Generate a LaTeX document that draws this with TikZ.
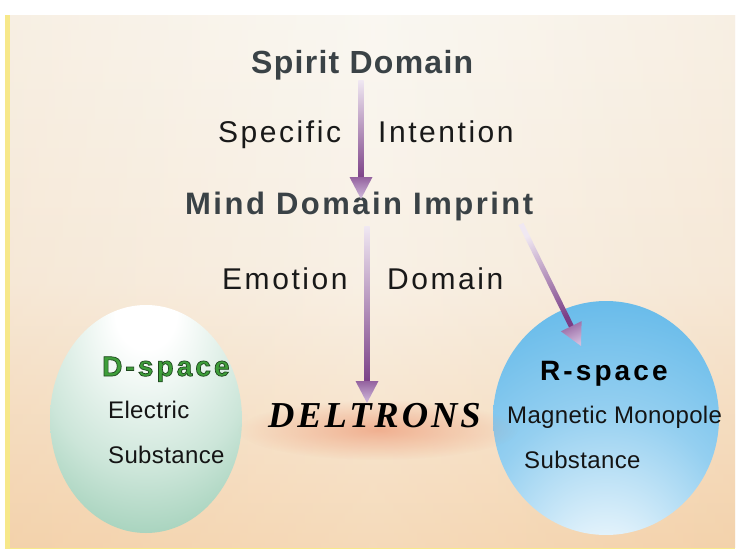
\documentclass[tikz,border=0pt]{standalone}
\usepackage{fontspec}
\setmainfont{Liberation Sans}
\newfontfamily\fSpirit[LetterSpace=4]{Liberation Sans}
\newfontfamily\fMind[LetterSpace=8]{Liberation Sans}
\newfontfamily\fTop[LetterSpace=8.5]{Liberation Sans}
\newfontfamily\fSph[LetterSpace=11]{Liberation Sans}
\newfontfamily\fSmall[LetterSpace=1.5]{Liberation Sans}
\newfontfamily\fDel[LetterSpace=8]{Liberation Serif}
\usetikzlibrary{calc,fadings}
\tikzfading[name=glowfade, inner color=transparent!0, outer color=transparent!100]
\definecolor{bgtop}{HTML}{F9F6EF}
\definecolor{bgmid}{HTML}{F7EDDF}
\definecolor{bgbot}{HTML}{F4D2AA}
\definecolor{bgside}{HTML}{F2D2B0}
\definecolor{txtdark}{HTML}{3A4246}
\definecolor{purp}{HTML}{7A3E86}
\definecolor{purphead}{HTML}{94629F}
\definecolor{purplight}{HTML}{F0E8F2}
\definecolor{headlight}{HTML}{D2BCDD}
\definecolor{sgreen}{HTML}{55AA80}
\definecolor{sblue}{HTML}{3DA8E4}
\definecolor{dgreen}{HTML}{3E9E3A}
\definecolor{glow}{HTML}{EC8660}
\definecolor{edgeyellow}{HTML}{F7E88A}
\pgfdeclareradialshading{sphG}{\pgfpoint{0bp}{26bp}}{%
  color(0bp)=(white); color(8bp)=(white); color(28bp)=(sgreen!30!white);
  color(55bp)=(sgreen!85!white); color(76bp)=(sgreen!92!black)}
\pgfdeclareradialshading{sphB}{\pgfpoint{0bp}{-38bp}}{%
  color(0bp)=(white); color(6bp)=(white!92!sblue); color(28bp)=(sblue!55!white);
  color(55bp)=(sblue!92!white); color(90bp)=(sblue)}
\tikzset{
  bigbold/.style={anchor=base west, inner sep=0pt, text=txtdark},
  plain/.style={anchor=base west, inner sep=0pt, text=black!90,
    font=\fTop\fontsize{30}{32}\selectfont},
  sphtxt/.style={anchor=base west, inner sep=0pt, text=black!92,
    font=\fSmall\fontsize{24}{26}\selectfont},
  sphhead/.style={anchor=base west, inner sep=0pt,
    font=\fSph\bfseries\fontsize{28}{30}\selectfont},
}
\newcommand\purparrow[3]{%
  \coordinate (#1-h) at ($(#3)!22pt!(#2)$);
  \coordinate (#1-k) at ($(#3)!19pt!(#2)$);
  \shade[top color=purplight, bottom color=purp, shading angle=#1]
    ($(#2)!2.6pt!90:(#3)$) -- ($(#1-k)!2.6pt!-90:(#2)$) --
    ($(#1-k)!2.6pt!90:(#2)$) -- ($(#2)!2.6pt!-90:(#3)$) -- cycle;
  \shade[top color=purphead, bottom color=headlight, shading angle=#1]
    ($(#1-h)!11.5pt!90:(#3)$) -- (#3) -- ($(#1-h)!11.5pt!-90:(#3)$) -- cycle;
}
\begin{document}
\begin{tikzpicture}[x=1pt,y=-1pt]
\useasboundingbox (0,0) rectangle (737,549);
% background
\fill[white] (0,0) rectangle (737,549);
\fill[edgeyellow] (5,15) rectangle (735,549);
\shade[top color=bgtop, bottom color=bgbot, middle color=bgmid] (10,15) rectangle (735,547);
\shade[left color=bgside, right color=bgside, middle color=white, opacity=0.18] (10,15) rectangle (735,547);
% spheres
\shade[shading=sphG] (146,419) ellipse (96 and 114);
\shade[shading=sphB] (606,418) ellipse (113 and 117);
% glow behind DELTRONS
\fill[glow, opacity=0.55, path fading=glowfade] (378,430) ellipse (140 and 30);
% texts
\node[bigbold, font=\fSpirit\bfseries\fontsize{32}{34}\selectfont] (spirit) at (251,73) {Spirit Domain};
\node[plain] (specific) at (218,142) {Specific};
\node[plain] (intention) at (378,142) {Intention};
\node[bigbold, font=\fMind\bfseries\fontsize{31}{33}\selectfont] (mind) at (185,214) {Mind Domain Imprint};
\node[plain] (emotion) at (222,289) {Emotion};
\node[plain] (domain) at (387,289) {Domain};
\node[anchor=base west, inner sep=0pt, text=black, font=\fDel\bfseries\itshape\fontsize{36.5}{38}\selectfont] (deltrons) at (268,427) {DELTRONS};
\node[sphhead, text=black] (rspace) at (540,380) {R-space};
\node[sphtxt] (mag) at (507,423) {Magnetic Monopole};
\node[sphtxt] (subR) at (524,468) {Substance};
\node[sphtxt] (elec) at (108,418) {Electric};
\node[sphtxt] (subL) at (108,463) {Substance};
\node[sphhead, text=dgreen] (dspace) at (102,376)
  {\special{pdf:literal direct 2 Tr 0.7 w 0.12 0.28 0.12 RG}D-space\special{pdf:literal direct 0 Tr}};
% arrows
\coordinate (a1s) at (361,80);
\coordinate (a1e) at (361,199);
\coordinate (a2s) at (367,226);
\coordinate (a2e) at (367,403);
\coordinate (a3s) at (521,224);
\coordinate (a3e) at (581,346);
\purparrow{0}{a1s}{a1e}
\purparrow{0}{a2s}{a2e}
\purparrow{26}{a3s}{a3e}
\end{tikzpicture}
\end{document}
